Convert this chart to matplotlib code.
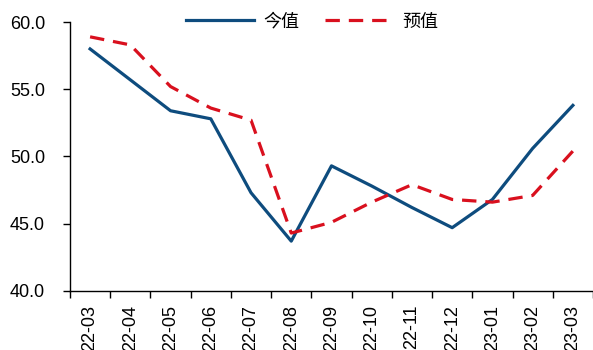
import matplotlib
matplotlib.use('Agg')
import matplotlib.pyplot as plt

plt.rcParams['font.family'] = ['Liberation Sans', 'Noto Sans CJK SC']

months = ['22-03', '22-04', '22-05', '22-06', '22-07', '22-08', '22-09',
          '22-10', '22-11', '22-12', '23-01', '23-02', '23-03']
actual = [58.0, 55.7, 53.4, 52.8, 47.3, 43.7, 49.3, 47.8, 46.2, 44.7, 46.8, 50.6, 53.8]
forecast = [58.9, 58.3, 55.2, 53.6, 52.7, 44.3, 45.1, 46.6, 47.9, 46.8, 46.6, 47.1, 50.4]

fig = plt.figure(figsize=(5.93, 3.5), dpi=100)
ax = fig.add_axes([0.118, 0.169, 0.882, 0.768])

x = range(len(months))
ax.plot(x, actual, color='#0E4C7E', lw=2.3, label='今值')
ax.plot(x, forecast, color='#D9101E', lw=2.3, dashes=(4.5, 2.8), label='预值')

ax.set_ylim(40, 60)
ax.set_yticks([40, 45, 50, 55, 60])
ax.set_yticklabels(['%.1f' % v for v in [40, 45, 50, 55, 60]])
ax.set_xlim(-0.5, len(months) - 0.5)
# category boundaries get the tick marks, labels sit in between
ax.set_xticks([i + 0.5 for i in range(-1, len(months))], minor=False)
ax.set_xticklabels([])
ax.set_xticks(list(x), minor=True)
ax.set_xticklabels(months, minor=True, rotation=90)

ax.tick_params(axis='x', which='major', direction='out', length=5, width=1)
ax.tick_params(axis='x', which='minor', length=0, pad=10, labelsize=13)
ax.tick_params(axis='y', direction='out', length=5, width=1, pad=13, labelsize=13)

for s in ['top', 'right']:
    ax.spines[s].set_visible(False)
for s in ['left', 'bottom']:
    ax.spines[s].set_linewidth(1)
    ax.spines[s].set_color('black')

fig.legend(loc='center', bbox_to_anchor=(0.526, 0.937), ncol=2, frameon=False,
           fontsize=13, handlelength=3.8, handletextpad=0.5, columnspacing=1.4)

fig.savefig('out.png', dpi=100)
